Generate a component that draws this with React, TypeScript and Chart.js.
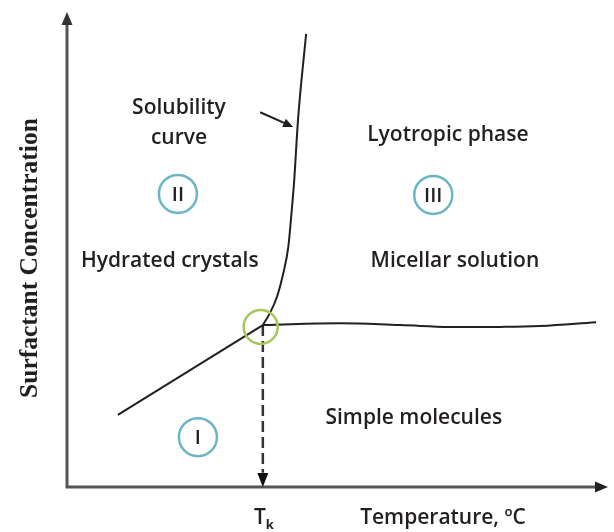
import React, { useEffect, useRef } from "react";
import { Chart, registerables } from "chart.js";

Chart.register(...registerables);

// ---- data (abstract units: temperature 0..100, concentration 0..100) ----
const solubilityX = [36.2, 37.5, 38.8, 40.0, 40.9, 41.5, 42.0, 42.7, 44.2];
const solubilityY = [34.1, 36.6, 40.0, 45.1, 50.5, 57.7, 64.6, 77.3, 95.4];

const micelleX = [36.2, 50.5, 61.6, 70.8, 80.0, 87.4, 97.8];
const micelleY = [34.1, 34.5, 34.1, 33.7, 33.7, 33.9, 34.7];

const crystalX = [9.4, 36.2];
const crystalY = [15.2, 34.1];

const krafftX = 36.2;
const krafftY = 34.1;
const krafftMarkX = 35.8;
const krafftMarkY = 33.7;

const phaseNumerals = ["I", "II", "III"];
const phaseX = [24.2, 20.5, 67.7];
const phaseY = [10.5, 61.7, 61.5];

const regionLabels = ["Solubility", "curve", "Lyotropic phase", "Hydrated crystals", "Micellar solution", "Simple molecules"];
const regionX = [20.7, 20.7, 70.4, 19.0, 71.7, 64.1];
const regionY = [78.5, 72.2, 72.8, 46.3, 46.3, 13.3];

const pointerFrom = [35.7, 78.9];
const pointerTo = [41.8, 75.8];

const xAxisTitle = "Temperature, \u00BAC";
const xAxisTitleX = 69.5;
const yAxisTitle = "Surfactant Concentration";
const yAxisTitleY = 48.2;
const krafftLabel = "T";
const krafftSub = "k";

const pts = (xs: number[], ys: number[]) => xs.map((x, i) => ({ x, y: ys[i] }));

const INK = "#231f20";
const LABEL_FONT = '600 21px "Open Sans", sans-serif';

function arrowHead(ctx: CanvasRenderingContext2D, tipX: number, tipY: number, dx: number, dy: number, len: number, half: number, color: string) {
  const nx = -dy, ny = dx;
  const bx = tipX - dx * len, by = tipY - dy * len;
  ctx.save();
  ctx.fillStyle = color;
  ctx.beginPath();
  ctx.moveTo(tipX, tipY);
  ctx.lineTo(bx + nx * half, by + ny * half);
  ctx.lineTo(bx - nx * half, by - ny * half);
  ctx.closePath();
  ctx.fill();
  ctx.restore();
}

const axesPlugin = {
  id: "phaseAxes",
  beforeDatasetsDraw(chart: any) {
    const { ctx, scales } = chart;
    const xs = scales.x, ys = scales.y;
    const x0 = xs.getPixelForValue(0), x1 = xs.getPixelForValue(100);
    const y0 = ys.getPixelForValue(0), y1 = ys.getPixelForValue(100);
    ctx.save();
    ctx.strokeStyle = "#555";
    ctx.lineWidth = 3;
    ctx.lineCap = "butt";
    ctx.beginPath();
    ctx.moveTo(x0, y1 + 10);
    ctx.lineTo(x0, y0);
    ctx.lineTo(x1 - 10, y0);
    ctx.stroke();
    ctx.restore();
    arrowHead(ctx, x0, y1, 0, -1, 13, 5.5, "#333");
    arrowHead(ctx, x1, y0, 1, 0, 13, 5.5, "#222");
  },
  afterDatasetsDraw(chart: any) {
    const { ctx, scales } = chart;
    const xs = scales.x, ys = scales.y;
    const px = (v: number) => xs.getPixelForValue(v);
    const py = (v: number) => ys.getPixelForValue(v);

    // dashed drop line arrowhead at the temperature axis
    arrowHead(ctx, px(krafftX), py(0), 0, 1, 14, 5.5, "#111");

    // pointer arrow toward solubility curve
    const fx = px(pointerFrom[0]), fy = py(pointerFrom[1]);
    const tx = px(pointerTo[0]), ty = py(pointerTo[1]);
    const L = Math.hypot(tx - fx, ty - fy);
    const dx = (tx - fx) / L, dy = (ty - fy) / L;
    ctx.save();
    ctx.strokeStyle = INK;
    ctx.lineWidth = 2;
    ctx.beginPath();
    ctx.moveTo(fx, fy);
    ctx.lineTo(tx - dx * 8, ty - dy * 8);
    ctx.stroke();
    ctx.restore();
    arrowHead(ctx, tx, ty, dx, dy, 10, 4.5, INK);

    ctx.save();
    ctx.fillStyle = INK;
    ctx.font = LABEL_FONT;
    ctx.textAlign = "center";
    ctx.textBaseline = "alphabetic";
    regionLabels.forEach((t, i) => ctx.fillText(t, px(regionX[i]), py(regionY[i])));

    // phase numerals
    ctx.font = '600 20px "Open Sans", sans-serif';
    ctx.textBaseline = "middle";
    phaseNumerals.forEach((t, i) => ctx.fillText(t, px(phaseX[i]), py(phaseY[i]) + 1));

    // x axis title
    ctx.font = LABEL_FONT;
    ctx.textBaseline = "alphabetic";
    ctx.fillText(xAxisTitle, px(xAxisTitleX), py(0) + 37);

    // T_k
    const kx = px(krafftX);
    ctx.font = '600 21px "Open Sans", sans-serif';
    ctx.textAlign = "right";
    ctx.fillText(krafftLabel, kx + 3, py(0) + 37);
    ctx.font = '700 13px "Open Sans", sans-serif';
    ctx.textAlign = "left";
    ctx.fillText(krafftSub, kx + 3, py(0) + 42);

    // y axis title
    ctx.translate(px(0) - 30, py(yAxisTitleY));
    ctx.rotate(-Math.PI / 2);
    ctx.font = 'bold 25.5px "Liberation Serif", "Times New Roman", serif';
    ctx.textAlign = "center";
    ctx.fillText(yAxisTitle, 0, 0);
    ctx.restore();
  },
};

export default function App() {
  const ref = useRef<HTMLCanvasElement | null>(null);
  useEffect(() => {
    if (!ref.current) return;
    const chart = new Chart(ref.current, {
      type: "scatter",
      data: {
        datasets: [
          {
            label: "Krafft point",
            data: [{ x: krafftMarkX, y: krafftMarkY }],
            pointRadius: 17,
            pointStyle: "circle",
            backgroundColor: "rgba(0,0,0,0)",
            borderColor: "#a6c95e",
            borderWidth: 2.5,
            clip: false,
          } as any,
          {
            label: "Phases",
            data: pts(phaseX, phaseY),
            pointRadius: 19,
            pointStyle: "circle",
            backgroundColor: "rgba(0,0,0,0)",
            borderColor: "#6ab6c6",
            borderWidth: 2.5,
            clip: false,
          } as any,
          {
            label: "Solubility curve",
            data: pts(solubilityX, solubilityY),
            showLine: true,
            cubicInterpolationMode: "monotone",
            borderColor: INK,
            borderWidth: 2,
            pointRadius: 0,
            clip: false,
          } as any,
          {
            label: "CMC",
            data: pts(micelleX, micelleY),
            showLine: true,
            tension: 0.4,
            borderColor: INK,
            borderWidth: 2,
            pointRadius: 0,
            clip: false,
          } as any,
          {
            label: "Crystal boundary",
            data: pts(crystalX, crystalY),
            showLine: true,
            borderColor: INK,
            borderWidth: 2,
            pointRadius: 0,
            clip: false,
          } as any,
          {
            label: "Krafft temperature",
            data: [
              { x: krafftX, y: krafftY },
              { x: krafftX, y: 3 },
            ],
            showLine: true,
            borderColor: "#333",
            borderWidth: 2.5,
            borderDash: [11, 5],
            pointRadius: 0,
            clip: false,
          } as any,
        ],
      },
      options: {
        responsive: false,
        animation: false,
        devicePixelRatio: 1,
        layout: { autoPadding: false, padding: { left: 67, top: 12, right: 6, bottom: 45 } },
        scales: {
          x: { type: "linear", min: 0, max: 100, display: false },
          y: { type: "linear", min: 0, max: 100, display: false },
        },
        plugins: {
          legend: { display: false },
          tooltip: { enabled: false },
        },
      },
      plugins: [axesPlugin],
    });
    return () => chart.destroy();
  }, []);
  return (
    <div style={{ position: "absolute", left: 0, top: 0, width: 614, height: 532, background: "#fff" }}>
      <canvas ref={ref} width={614} height={532} style={{ display: "block" }} />
    </div>
  );
}
